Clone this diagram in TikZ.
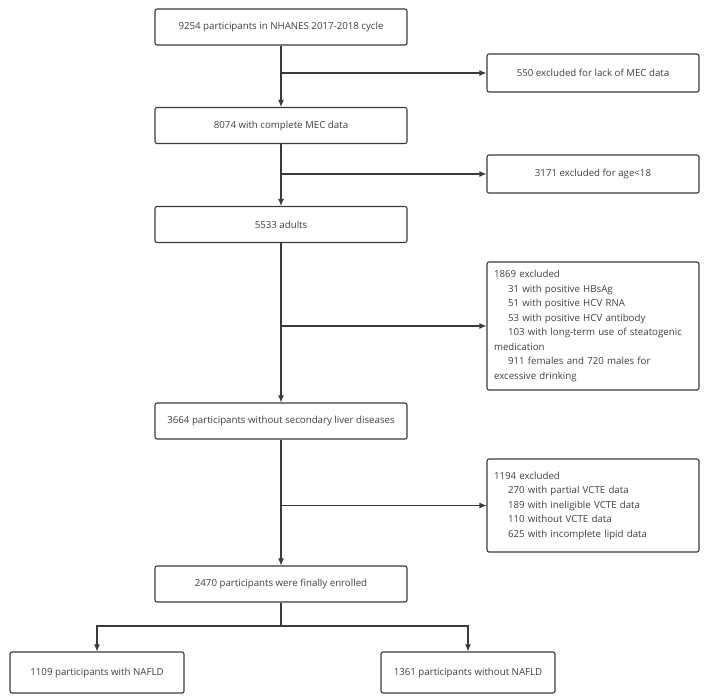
\documentclass[tikz,border=0pt]{standalone}
\usepackage{fontspec}
\setmainfont{Open Sans}
\usetikzlibrary{arrows.meta}
\definecolor{linec}{HTML}{3A3A3A}
\definecolor{textc}{HTML}{404040}
\begin{document}
\begin{tikzpicture}[x=1pt,y=-1pt,
  box/.style={draw=linec, line width=1.1pt, rounded corners=2pt, text=textc,
    font=\fontsize{9.7}{14.5}\selectfont, inner sep=0pt, align=center},
  mainbox/.style={box, minimum width=252pt, minimum height=36pt},
  sidebox/.style={box, minimum width=212pt},
  listbox/.style={box, minimum width=212pt, text width=198pt, align=left},
  arr/.style={draw=linec, line width=1.1pt, -{Latex[length=7pt,width=6pt]}},
  ln/.style={draw=linec, line width=1.1pt}]
\useasboundingbox (0,0) rectangle (708,697);
\node[mainbox] (n1) at (281,27) {9254 participants in NHANES 2017-2018 cycle};
\node[mainbox] (n2) at (281,125.5) {8074 with complete MEC data};
\node[mainbox] (n3) at (281,224.5) {5533 adults};
\node[mainbox] (n4) at (281,421) {3664 participants without secondary liver diseases};
\node[mainbox] (n5) at (281,584) {2470 participants were finally enrolled};
\node[sidebox, minimum height=38pt] (r1) at (593,73) {550 excluded for lack of MEC data};
\node[sidebox, minimum height=38pt] (r2) at (593,174) {3171 excluded for age<18};
\node[listbox, minimum height=128pt] (r3) at (593,326) {1869 excluded\\
\hspace*{14pt}31 with positive HBsAg\\
\hspace*{14pt}51 with positive HCV RNA\\
\hspace*{14pt}53 with positive HCV antibody\\
\hspace*{14pt}103 with long-term use of steatogenic\\
medication\\
\hspace*{14pt}911 females and 720 males for\\
excessive drinking};
\node[listbox, minimum height=93pt] (r4) at (593,505.5) {1194 excluded\\
\hspace*{14pt}270 with partial VCTE data\\
\hspace*{14pt}189 with ineligible VCTE data\\
\hspace*{14pt}110 without VCTE data\\
\hspace*{14pt}625 with incomplete lipid data};
\node[box, minimum width=174pt, minimum height=41pt] (b1) at (97,672.5) {1109 participants with NAFLD};
\node[box, minimum width=174pt, minimum height=41pt] (b2) at (468,672.5) {1361 participants without NAFLD};
\coordinate (s) at (281,626);
\draw[arr] (n1) -- (n2);
\draw[arr] (n2) -- (n3);
\draw[arr] (n3) -- (n4);
\draw[arr] (n4) -- (n5);
\draw[arr] (n1.south |- r1.west) -- (r1.west);
\draw[arr] (n2.south |- r2.west) -- (r2.west);
\draw[arr] (n3.south |- r3.west) -- (r3.west);
\draw[arr] (n4.south |- r4.west) -- (r4.west);
\draw[ln] (n5.south) -- (s);
\draw[arr] (s) -| (b1.north);
\draw[arr] (s) -| (b2.north);
\end{tikzpicture}
\end{document}
